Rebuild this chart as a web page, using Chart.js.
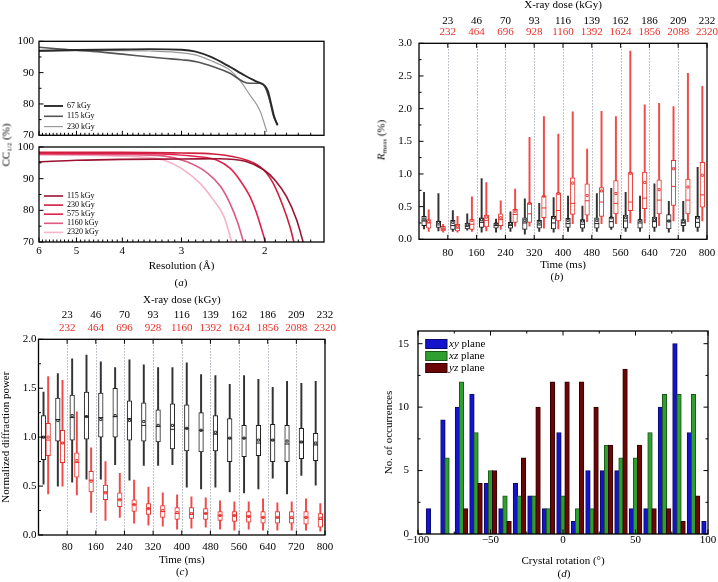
<!DOCTYPE html>
<html>
<head>
<meta charset="utf-8">
<script src="https://cdn.jsdelivr.net/npm/chart.js@4.4.1/dist/chart.umd.min.js"></script>
<style>
  body { margin: 0; width: 718px; height: 582px; position: relative; background: #fff; overflow: hidden;
         font-family: 'Liberation Serif', 'Times New Roman', serif; color: #000; }
  canvas { position: absolute; }
  .lbl { position: absolute; white-space: nowrap; font-size: 11px; line-height: 1; transform: translate(-50%, -50%); }
  .lbl.v { transform: translate(-50%, -50%) rotate(-90deg); }
  .lbl sub { font-size: 7px; vertical-align: -2px; }
</style>
</head>
<body>
<canvas id="a1" width="359" height="140" style="left:0;top:0"></canvas>
<canvas id="a2" width="359" height="150" style="left:0;top:140px"></canvas>
<canvas id="b" width="359" height="290" style="left:359px;top:0"></canvas>
<canvas id="c" width="359" height="292" style="left:0;top:290px"></canvas>
<canvas id="d" width="359" height="292" style="left:359px;top:290px"></canvas>
<div class="lbl v" style="left:7px;top:145px">CC<sub>1/2</sub> (%)</div>
<div class="lbl" style="left:181px;top:282px">(<i>a</i>)</div>
<div class="lbl v" style="left:382px;top:140px"><i>R</i><sub>meas</sub> (%)</div>
<div class="lbl" style="left:557px;top:276px">(<i>b</i>)</div>
<div class="lbl" style="left:182px;top:571px">(<i>c</i>)</div>
<div class="lbl" style="left:564px;top:573px">(<i>d</i>)</div>
<script>
// ---- (a) CC1/2 against resolution (Å) ----
const resTicks = [6, 5, 4, 3, 2];
const ccTicks = [70, 80, 90, 100];

const resLow67 = [6, 5, 4, 3.5, 3.0, 2.8, 2.6, 2.4, 2.2, 2.08, 2.0, 1.97, 1.94, 1.91, 1.88];
const ccLow67 = [97.0, 97.2, 97.4, 97.5, 97.3, 96.7, 95.0, 92.3, 89.0, 87.1, 85.8, 84.0, 80.0, 75.8, 73.2];
const resLow115 = [6, 5.5, 4.53, 4, 3.28, 3.0, 2.79, 2.57, 2.37, 2.22, 2.15, 2.05, 2.0, 1.95, 1.92, 1.88];
const ccLow115 = [98.1, 97.6, 96.7, 95.9, 94.6, 94.1, 93.5, 91.9, 89.8, 87.1, 86.6, 86.6, 85.5, 80.7, 76.4, 73.4];
const resLow230 = [6, 5, 4, 3.5, 3.15, 2.79, 2.57, 2.37, 2.26, 2.15, 2.05, 1.98];
const ccLow230 = [96.8, 97.0, 97.0, 96.9, 96.6, 95.6, 93.5, 90.8, 87.6, 82.8, 78.0, 71.1];

const resHigh115 = [6, 5, 4, 3, 2.5, 2.2, 2.016, 1.905, 1.8, 1.714, 1.66];
const ccHigh115 = [95.3, 95.8, 96.1, 96.2, 96.3, 95.5, 92.9, 89.6, 84.3, 77.0, 70.0];
const resHigh230 = [6, 4, 3, 2.57, 2.19, 2.016, 1.92, 1.83, 1.77, 1.737];
const ccHigh230 = [98.3, 98.3, 98.1, 97.8, 95.9, 92.9, 88.5, 81.2, 74.8, 70.0];
const resHigh575 = [6, 4, 3.3, 2.79, 2.53, 2.37, 2.26, 2.15, 2.07, 1.995];
const ccHigh575 = [98.0, 98.0, 97.8, 97.0, 95.9, 93.3, 89.6, 84.3, 78.0, 70.0];
const resHigh1160 = [6, 4, 3.28, 2.93, 2.64, 2.48, 2.37, 2.28, 2.22];
const ccHigh1160 = [97.8, 97.6, 97.2, 95.4, 91.7, 87.5, 82.2, 75.9, 70.0];
const resHigh2320 = [6, 4.5, 3.85, 3.28, 2.97, 2.74, 2.57, 2.44, 2.35];
const ccHigh2320 = [97.5, 97.3, 97.0, 95.9, 92.8, 88.5, 83.3, 78.0, 70.0];

// ---- (b), (c) box plots against time (ms) ----
const sampleTimes = [20, 60, 100, 140, 180, 220, 260, 300, 340, 380, 420, 460, 500, 540, 580, 620, 660, 700, 740, 780];
const timeTicks = [80, 160, 240, 320, 400, 480, 560, 640, 720, 800];
const guideTimes = [80, 160, 240, 320, 400, 480, 560, 640, 720];
const doseLowLabels = ['23', '46', '70', '93', '116', '139', '162', '186', '209', '232'];
const doseHighLabels = ['232', '464', '696', '928', '1160', '1392', '1624', '1856', '2088', '2320'];

const rmeasTicks = [0, 0.5, 1.0, 1.5, 2.0, 2.5, 3.0];
const rLowMin  = [0.16, 0.13, 0.12, 0.14, 0.11, 0.11, 0.12, 0.08, 0.12, 0.11, 0.12, 0.12, 0.12, 0.15, 0.12, 0.12, 0.12, 0.11, 0.12, 0.12];
const rLowQ1   = [0.21, 0.18, 0.15, 0.16, 0.18, 0.17, 0.17, 0.15, 0.17, 0.16, 0.18, 0.17, 0.17, 0.18, 0.17, 0.17, 0.18, 0.16, 0.21, 0.18];
const rLowMed  = [0.28, 0.22, 0.21, 0.20, 0.26, 0.21, 0.21, 0.25, 0.22, 0.25, 0.24, 0.23, 0.24, 0.27, 0.28, 0.25, 0.27, 0.28, 0.25, 0.26];
const rLowQ3   = [0.35, 0.28, 0.29, 0.25, 0.33, 0.25, 0.26, 0.33, 0.29, 0.35, 0.32, 0.30, 0.33, 0.34, 0.37, 0.30, 0.34, 0.38, 0.30, 0.35];
const rLowMax  = [0.72, 0.70, 0.44, 0.39, 0.93, 0.31, 0.42, 0.62, 0.55, 0.64, 0.66, 0.51, 0.70, 0.78, 0.72, 0.66, 0.85, 0.58, 0.58, 1.10];
const rLowMean = [0.31, 0.26, 0.26, 0.22, 0.30, 0.24, 0.24, 0.29, 0.26, 0.33, 0.29, 0.28, 0.29, 0.33, 0.33, 0.29, 0.30, 0.28, 0.27, 0.33];
const rHighMin  = [0.12, 0.11, 0.11, 0.12, 0.13, 0.15, 0.20, 0.20, 0.17, 0.16, 0.24, 0.27, 0.24, 0.24, 0.25, 0.25, 0.21, 0.28, 0.27, 0.28];
const rHighQ1   = [0.17, 0.13, 0.13, 0.15, 0.19, 0.21, 0.26, 0.26, 0.33, 0.28, 0.38, 0.37, 0.35, 0.39, 0.44, 0.47, 0.39, 0.52, 0.39, 0.49];
const rHighMed  = [0.25, 0.16, 0.17, 0.23, 0.29, 0.30, 0.38, 0.39, 0.48, 0.44, 0.55, 0.59, 0.57, 0.55, 0.57, 0.63, 0.60, 0.81, 0.60, 0.68];
const rHighQ3   = [0.30, 0.20, 0.23, 0.30, 0.37, 0.39, 0.46, 0.56, 0.66, 0.71, 0.94, 0.85, 0.79, 0.90, 1.02, 1.03, 0.91, 1.21, 0.92, 1.18];
const rHighMax  = [0.45, 0.23, 0.35, 0.65, 0.87, 0.59, 0.77, 1.56, 1.88, 1.61, 1.95, 1.38, 1.96, 1.88, 2.88, 2.06, 2.08, 2.03, 2.54, 2.34];
const rHighMean = [0.27, 0.16, 0.20, 0.29, 0.34, 0.33, 0.43, 0.55, 0.66, 0.70, 0.86, 0.67, 0.74, 0.70, 1.01, 0.87, 0.76, 1.08, 0.80, 0.98];

const powerTicks = [0, 0.5, 1.0, 1.5, 2.0];
const pLowMin  = [0.52, 0.50, 0.54, 0.57, 0.57, 0.72, 0.56, 0.71, 0.71, 0.72, 0.49, 0.47, 0.49, 0.44, 0.43, 0.47, 0.58, 0.42, 0.61, 0.51];
const pLowQ1   = [0.77, 0.96, 0.97, 0.98, 1.00, 1.00, 0.97, 0.96, 0.95, 0.88, 0.86, 0.85, 0.86, 0.75, 0.80, 0.81, 0.75, 0.75, 0.78, 0.76];
const pLowMed  = [1.00, 1.18, 1.20, 1.21, 1.20, 1.21, 1.19, 1.12, 1.11, 1.08, 1.09, 1.07, 1.03, 0.99, 0.99, 0.94, 0.97, 0.93, 0.95, 0.92];
const pLowQ3   = [1.22, 1.40, 1.43, 1.46, 1.45, 1.50, 1.37, 1.35, 1.28, 1.34, 1.33, 1.25, 1.22, 1.19, 1.12, 1.12, 1.13, 1.12, 1.09, 1.04];
const pLowMax  = [1.46, 1.65, 1.80, 1.84, 1.77, 1.71, 1.79, 1.74, 1.71, 1.71, 1.76, 1.64, 1.63, 1.54, 1.63, 1.59, 1.51, 1.57, 1.55, 1.57];
const pLowMean = [1.00, 1.17, 1.22, 1.21, 1.18, 1.22, 1.17, 1.16, 1.12, 1.12, 1.09, 1.07, 1.05, 0.99, 0.99, 0.97, 0.97, 0.96, 0.95, 0.94];
const pHighMin  = [0.42, 0.50, 0.41, 0.23, 0.15, 0.18, 0.12, 0.10, 0.09, 0.06, 0.07, 0.08, 0.06, 0.05, 0.06, 0.05, 0.05, 0.05, 0.05, 0.04];
const pHighQ1   = [0.81, 0.74, 0.59, 0.44, 0.36, 0.29, 0.24, 0.21, 0.18, 0.16, 0.17, 0.16, 0.15, 0.14, 0.13, 0.12, 0.12, 0.12, 0.11, 0.08];
const pHighMed  = [0.97, 0.94, 0.74, 0.56, 0.44, 0.36, 0.31, 0.27, 0.24, 0.22, 0.21, 0.22, 0.20, 0.20, 0.19, 0.18, 0.18, 0.17, 0.18, 0.16];
const pHighQ3   = [1.14, 1.07, 0.84, 0.65, 0.51, 0.43, 0.36, 0.32, 0.30, 0.28, 0.28, 0.27, 0.24, 0.24, 0.24, 0.24, 0.24, 0.24, 0.24, 0.22];
const pHighMax  = [1.62, 1.58, 1.26, 0.89, 0.75, 0.63, 0.56, 0.49, 0.43, 0.41, 0.39, 0.38, 0.35, 0.34, 0.34, 0.37, 0.33, 0.34, 0.37, 0.32];
const pHighMean = [1.00, 0.94, 0.76, 0.55, 0.43, 0.36, 0.31, 0.27, 0.25, 0.23, 0.22, 0.22, 0.20, 0.20, 0.19, 0.18, 0.18, 0.18, 0.18, 0.17];

// ---- (d) crystal rotation histogram ----
const rotBins = [-90, -80, -70, -60, -50, -40, -30, -20, -10, 0, 10, 20, 30, 40, 50, 60, 70, 80, 90, 100];
const xyCounts = [2, 9, 10, 11, 4, 2, 4, 3, 2, 8, 1, 5, 5, 5, 2, 2, 10, 15, 8, 1];
const xzCounts = [0, 6, 12, 8, 5, 3, 3, 3, 2, 3, 2, 2, 7, 6, 6, 8, 11, 11, 11, 0];
const yzCounts = [0, 0, 2, 4, 5, 1, 6, 10, 12, 12, 12, 10, 7, 13, 7, 2, 2, 1, 3, 0];
const rotTicks = [-100, -50, 0, 50, 100];
const countTicks = [0, 5, 10, 15];

// ---------------------------------------------------------------
const RED = '#e8302a';
Chart.defaults.font.family = "'Liberation Serif', 'Times New Roman', serif";
Chart.defaults.font.size = 11;
Chart.defaults.color = '#000';
Chart.defaults.animation = false;
Chart.defaults.plugins.legend.display = false;
Chart.defaults.plugins.tooltip.enabled = false;

const fixW = w => s => { s.width = w; s.paddingTop = 0; s.paddingBottom = 0; };
const fixH = h => s => { s.height = h; s.paddingLeft = 0; s.paddingRight = 0; };
const useTicks = vals => s => { s.ticks = vals.map(v => ({ value: v })); };
const axis = extra => Object.assign({ grid: { display: false, drawTicks: false }, border: { display: false } }, extra);
const between = (vals) => vals.slice(1).map((v, i) => (v + vals[i]) / 2);

// minor ticks of the resolution axis, every 0.1 Å
const resMinor = [];
for (let r = 59; r >= 16; r--) if (r % 10) resMinor.push(r / 10);

// frame, inward ticks and dotted guides, all placed with the chart's own scales
const framePlugin = {
  id: 'frame',
  beforeDatasetsDraw(chart, args, o) {
    if (!o.guides) return;
    const { ctx, chartArea: a } = chart;
    const s = chart.scales[o.guides.axis];
    ctx.save();
    ctx.strokeStyle = '#7f8893'; ctx.lineWidth = 0.8; ctx.setLineDash([1.2, 1.8]);
    o.guides.values.forEach(v => {
      const px = Math.round(s.getPixelForValue(v)) + 0.5;
      ctx.beginPath(); ctx.moveTo(px, a.top); ctx.lineTo(px, a.bottom); ctx.stroke();
    });
    ctx.restore();
  },
  afterDatasetsDraw(chart, args, o) {
    const { ctx, chartArea: a } = chart;
    ctx.save();
    ctx.strokeStyle = '#000'; ctx.lineWidth = 1.3;
    ctx.strokeRect(a.left, a.top, a.right - a.left, a.bottom - a.top);
    ctx.lineWidth = 1;
    (o.ticks || []).forEach(t => {
      const s = chart.scales[t.axis];
      const mark = (v, len) => {
        const p = s.getPixelForValue(v);
        t.sides.forEach(side => {
          ctx.beginPath();
          if (side === 'bottom') { ctx.moveTo(p, a.bottom); ctx.lineTo(p, a.bottom - len); }
          if (side === 'top') { ctx.moveTo(p, a.top); ctx.lineTo(p, a.top + len); }
          if (side === 'left') { ctx.moveTo(a.left, p); ctx.lineTo(a.left + len, p); }
          if (side === 'right') { ctx.moveTo(a.right, p); ctx.lineTo(a.right - len, p); }
          ctx.stroke();
        });
      };
      (t.major || []).forEach(v => mark(v, 4.5));
      (t.minor || []).forEach(v => mark(v, 2.5));
    });
    ctx.restore();
  }
};

// legend drawn inside the plot area
const insetLegend = {
  id: 'inset',
  afterDatasetsDraw(chart, args, o) {
    if (!o.show) return;
    const { ctx, chartArea: a } = chart;
    ctx.save();
    ctx.textBaseline = 'middle';
    ctx.fillStyle = '#000';
    chart.data.datasets.forEach((d, i) => {
      const x = a.left + o.x, y = a.top + o.y + i * o.rowH;
      if (o.kind === 'box') {
        ctx.fillStyle = d.backgroundColor; ctx.fillRect(x, y - o.h / 2, o.w, o.h);
        ctx.strokeStyle = d.borderColor; ctx.lineWidth = 1; ctx.strokeRect(x, y - o.h / 2, o.w, o.h);
      } else {
        ctx.strokeStyle = d.borderColor; ctx.lineWidth = d.borderWidth;
        ctx.beginPath(); ctx.moveTo(x, y); ctx.lineTo(x + o.w, y); ctx.stroke();
      }
      ctx.fillStyle = '#000';
      const fam = Chart.defaults.font.family;
      let tx = x + o.w + o.gap;
      let text = d.label;
      if (o.italicFirst) {
        const [first, ...rest] = d.label.split(' ');
        ctx.font = `italic ${o.size}px ${fam}`;
        ctx.fillText(first, tx, y);
        tx += ctx.measureText(first).width;
        text = ' ' + rest.join(' ');
      }
      ctx.font = `${o.size}px ${fam}`;
      ctx.fillText(text, tx, y);
    });
    ctx.restore();
  }
};

function curve(label, xs, ys, color, width) {
  return {
    label, data: xs.map((x, i) => ({ x, y: ys[i] })),
    borderColor: color, borderWidth: width, pointRadius: 0,
    cubicInterpolationMode: 'monotone', fill: false
  };
}

function resolutionChart(id, datasets, pad, xHeight, showLabels, legendY) {
  return new Chart(document.getElementById(id), {
    type: 'line',
    data: { datasets },
    options: {
      responsive: false,
      layout: { padding: pad },
      scales: {
        x: axis({
          type: 'logarithmic', min: 1.5, max: 6, reverse: true,
          ticks: { display: showLabels, padding: 2.6, maxRotation: 0, autoSkip: false, callback: v => String(v) },
          afterBuildTicks: useTicks(resTicks),
          title: { display: showLabels, text: 'Resolution (Å)', padding: 0 },
          afterFit: fixH(xHeight)
        }),
        y: axis({
          min: 70, max: 100,
          ticks: { padding: 5, autoSkip: false },
          afterBuildTicks: useTicks(ccTicks),
          afterFit: fixW(39)
        })
      },
      plugins: {
        frame: { ticks: [
          { axis: 'y', sides: ['left'], major: ccTicks, minor: between(ccTicks) },
          { axis: 'x', sides: ['bottom'], major: resTicks, minor: resMinor }
        ] },
        inset: { show: true, kind: 'line', x: 5, y: legendY, rowH: legendY > 55 ? 10.3 : 9.1, w: 19, gap: 4, size: 8 }
      }
    },
    plugins: [framePlugin, insetLegend]
  });
}

resolutionChart('a1', [
  curve('67 kGy', resLow67, ccLow67, '#2a2a2a', 1.9),
  curve('115 kGy', resLow115, ccLow115, '#555555', 1.6),
  curve('230 kGy', resLow230, ccLow230, '#9a9a9a', 1.2)
], { top: 41.3, right: 35, bottom: 0, left: 0 }, 4.7, false, 64.7);

resolutionChart('a2', [
  curve('115 kGy', resHigh115, ccHigh115, '#9b1330', 1.6),
  curve('230 kGy', resHigh230, ccHigh230, '#cf1f3f', 1.6),
  curve('575 kGy', resHigh575, ccHigh575, '#e3204e', 1.6),
  curve('1160 kGy', resHigh1160, ccHigh1160, '#de5a82', 1.6),
  curve('2320 kGy', resHigh2320, ccHigh2320, '#f5b4c7', 1.6)
], { top: 7, right: 35, bottom: 17, left: 0 }, 31, true, 49);

function boxSets(times, shift, mins, q1s, meds, q3s, maxs, means, color, whisker) {
  const xs = times.map(t => t + shift);
  return [
    { type: 'bar', data: xs.map((x, i) => ({ x, y: [mins[i], maxs[i]] })), backgroundColor: whisker,
      borderWidth: 0, barThickness: 1.3, grouped: false, order: 4 },
    { type: 'bar', data: xs.map((x, i) => ({ x, y: [q1s[i], q3s[i]] })), backgroundColor: '#ffffff',
      borderColor: color, borderWidth: 1, borderSkipped: false, barThickness: 4.6, grouped: false, order: 3 },
    { type: 'scatter', data: xs.map((x, i) => ({ x, y: meds[i] })), pointStyle: 'line', pointRadius: 2.3,
      borderColor: color, borderWidth: 1, order: 2 },
    { type: 'scatter', data: xs.map((x, i) => ({ x, y: means[i] })), pointStyle: 'rect', pointRadius: 1.5,
      borderColor: color, backgroundColor: 'rgba(0,0,0,0)', borderWidth: 0.9, order: 1 }
  ];
}

function doseChart(id, datasets, yMax, yTicks, geo) {
  return new Chart(document.getElementById(id), {
    type: 'bar',
    data: { datasets },
    options: {
      responsive: false,
      layout: { padding: { top: 0, right: geo.right, bottom: geo.bottom, left: 0 } },
      scales: {
        x: axis({
          type: 'linear', offset: false, min: 0, max: 800,
          ticks: { padding: geo.xPad, maxRotation: 0, autoSkip: false, callback: v => String(v) },
          afterBuildTicks: useTicks(timeTicks),
          title: { display: true, text: 'Time (ms)', padding: 0 },
          afterFit: fixH(geo.xHeight)
        }),
        doseHigh: axis({
          type: 'linear', axis: 'x', position: 'top', weight: 1, offset: false, min: 0, max: 800,
          ticks: { padding: geo.redPad, color: RED, maxRotation: 0, autoSkip: false, callback: (v, i) => doseHighLabels[i] },
          afterBuildTicks: useTicks(timeTicks),
          afterFit: fixH(geo.redHeight)
        }),
        doseLow: axis({
          type: 'linear', axis: 'x', position: 'top', weight: 2, offset: false, min: 0, max: 800,
          ticks: { padding: geo.blackPad, maxRotation: 0, autoSkip: false, callback: (v, i) => doseLowLabels[i] },
          afterBuildTicks: useTicks(timeTicks),
          title: { display: true, text: 'X-ray dose (kGy)', padding: { top: geo.titleTop, bottom: 0 } },
          afterFit: fixH(geo.blackHeight)
        }),
        y: axis({
          min: 0, max: yMax,
          ticks: { padding: geo.yPad, autoSkip: false, callback: v => v.toFixed(1) },
          afterBuildTicks: useTicks(yTicks),
          title: { display: !!geo.yTitle, text: geo.yTitle || '', padding: { top: 0, bottom: 0 } },
          afterFit: fixW(geo.yWidth)
        })
      },
      plugins: {
        frame: {
          guides: { axis: 'x', values: guideTimes },
          ticks: [
            { axis: 'y', sides: ['left'], major: yTicks, minor: between(yTicks) },
            { axis: 'x', sides: ['bottom', 'top'], major: timeTicks }
          ]
        }
      }
    },
    plugins: [framePlugin]
  });
}

doseChart('b', [
  ...boxSets(sampleTimes, -6, rLowMin, rLowQ1, rLowMed, rLowQ3, rLowMax, rLowMean, '#1e1e1e', '#333333'),
  ...boxSets(sampleTimes, 7, rHighMin, rHighQ1, rHighMed, rHighQ3, rHighMax, rHighMean, RED, '#f04a4a')
], 3.0, rmeasTicks, {
  right: 11, bottom: 17.9, xPad: 7, xHeight: 32.8, redPad: 4.5, redHeight: 16.3,
  blackPad: -0.8, blackHeight: 27, titleTop: -1.6, yPad: 7, yWidth: 60
});

doseChart('c', [
  ...boxSets(sampleTimes, -6, pLowMin, pLowQ1, pLowMed, pLowQ3, pLowMax, pLowMean, '#1e1e1e', '#333333'),
  ...boxSets(sampleTimes, 7, pHighMin, pHighQ1, pHighMed, pHighQ3, pHighMax, pHighMean, RED, '#f04a4a')
], 2.0, powerTicks, {
  right: 34, bottom: 15.7, xPad: 5.7, xHeight: 31.3, redPad: 4.9, redHeight: 16.3,
  blackPad: 0.9, blackHeight: 33, titleTop: 3.4, yPad: 2, yWidth: 38.5,
  yTitle: 'Normalized diffraction power'
});

function rotBars(label, counts, shift, fill, edge, order) {
  return {
    label, data: rotBins.map((b, i) => ({ x: b + shift, y: counts[i] })),
    backgroundColor: fill, borderColor: edge, borderWidth: 1, borderSkipped: 'start',
    barThickness: 4.6, grouped: false, order
  };
}

new Chart(document.getElementById('d'), {
  type: 'bar',
  data: { datasets: [
    rotBars('xy plane', xyCounts, -2.8, '#1414cc', '#0a0a66', 3),
    rotBars('xz plane', xzCounts, 0, '#2f9f2f', '#1a551a', 2),
    rotBars('yz plane', yzCounts, 2.8, '#6b0606', '#320000', 1)
  ] },
  options: {
    responsive: false,
    layout: { padding: { top: 41, right: 10, bottom: 14.7, left: 0 } },
    scales: {
      x: axis({
        type: 'linear', offset: false, min: -100, max: 100,
        ticks: { padding: 0, maxRotation: 0, autoSkip: false, callback: v => (v < 0 ? '\u2212' + Math.abs(v) : String(v)) },
        afterBuildTicks: useTicks(rotTicks),
        title: { display: true, text: 'Crystal rotation (°)', padding: 0 },
        afterFit: fixH(33.3)
      }),
      y: axis({
        min: 0, max: 16,
        ticks: { padding: 9, autoSkip: false },
        afterBuildTicks: useTicks(countTicks),
        title: { display: true, text: 'No. of occurrences', padding: { top: 24, bottom: 0 } },
        afterFit: fixW(59)
      })
    },
    plugins: {
      frame: { ticks: [
        { axis: 'x', sides: ['bottom', 'top'], major: rotTicks, minor: between(rotTicks) },
        { axis: 'y', sides: ['left', 'right'], major: countTicks, minor: between(countTicks) }
      ] },
      inset: { show: true, kind: 'box', x: 7.7, y: 13, rowH: 12, w: 21.3, h: 9, gap: 2, size: 11, italicFirst: true }
    }
  },
  plugins: [framePlugin, insetLegend]
});
</script>
</body>
</html>
